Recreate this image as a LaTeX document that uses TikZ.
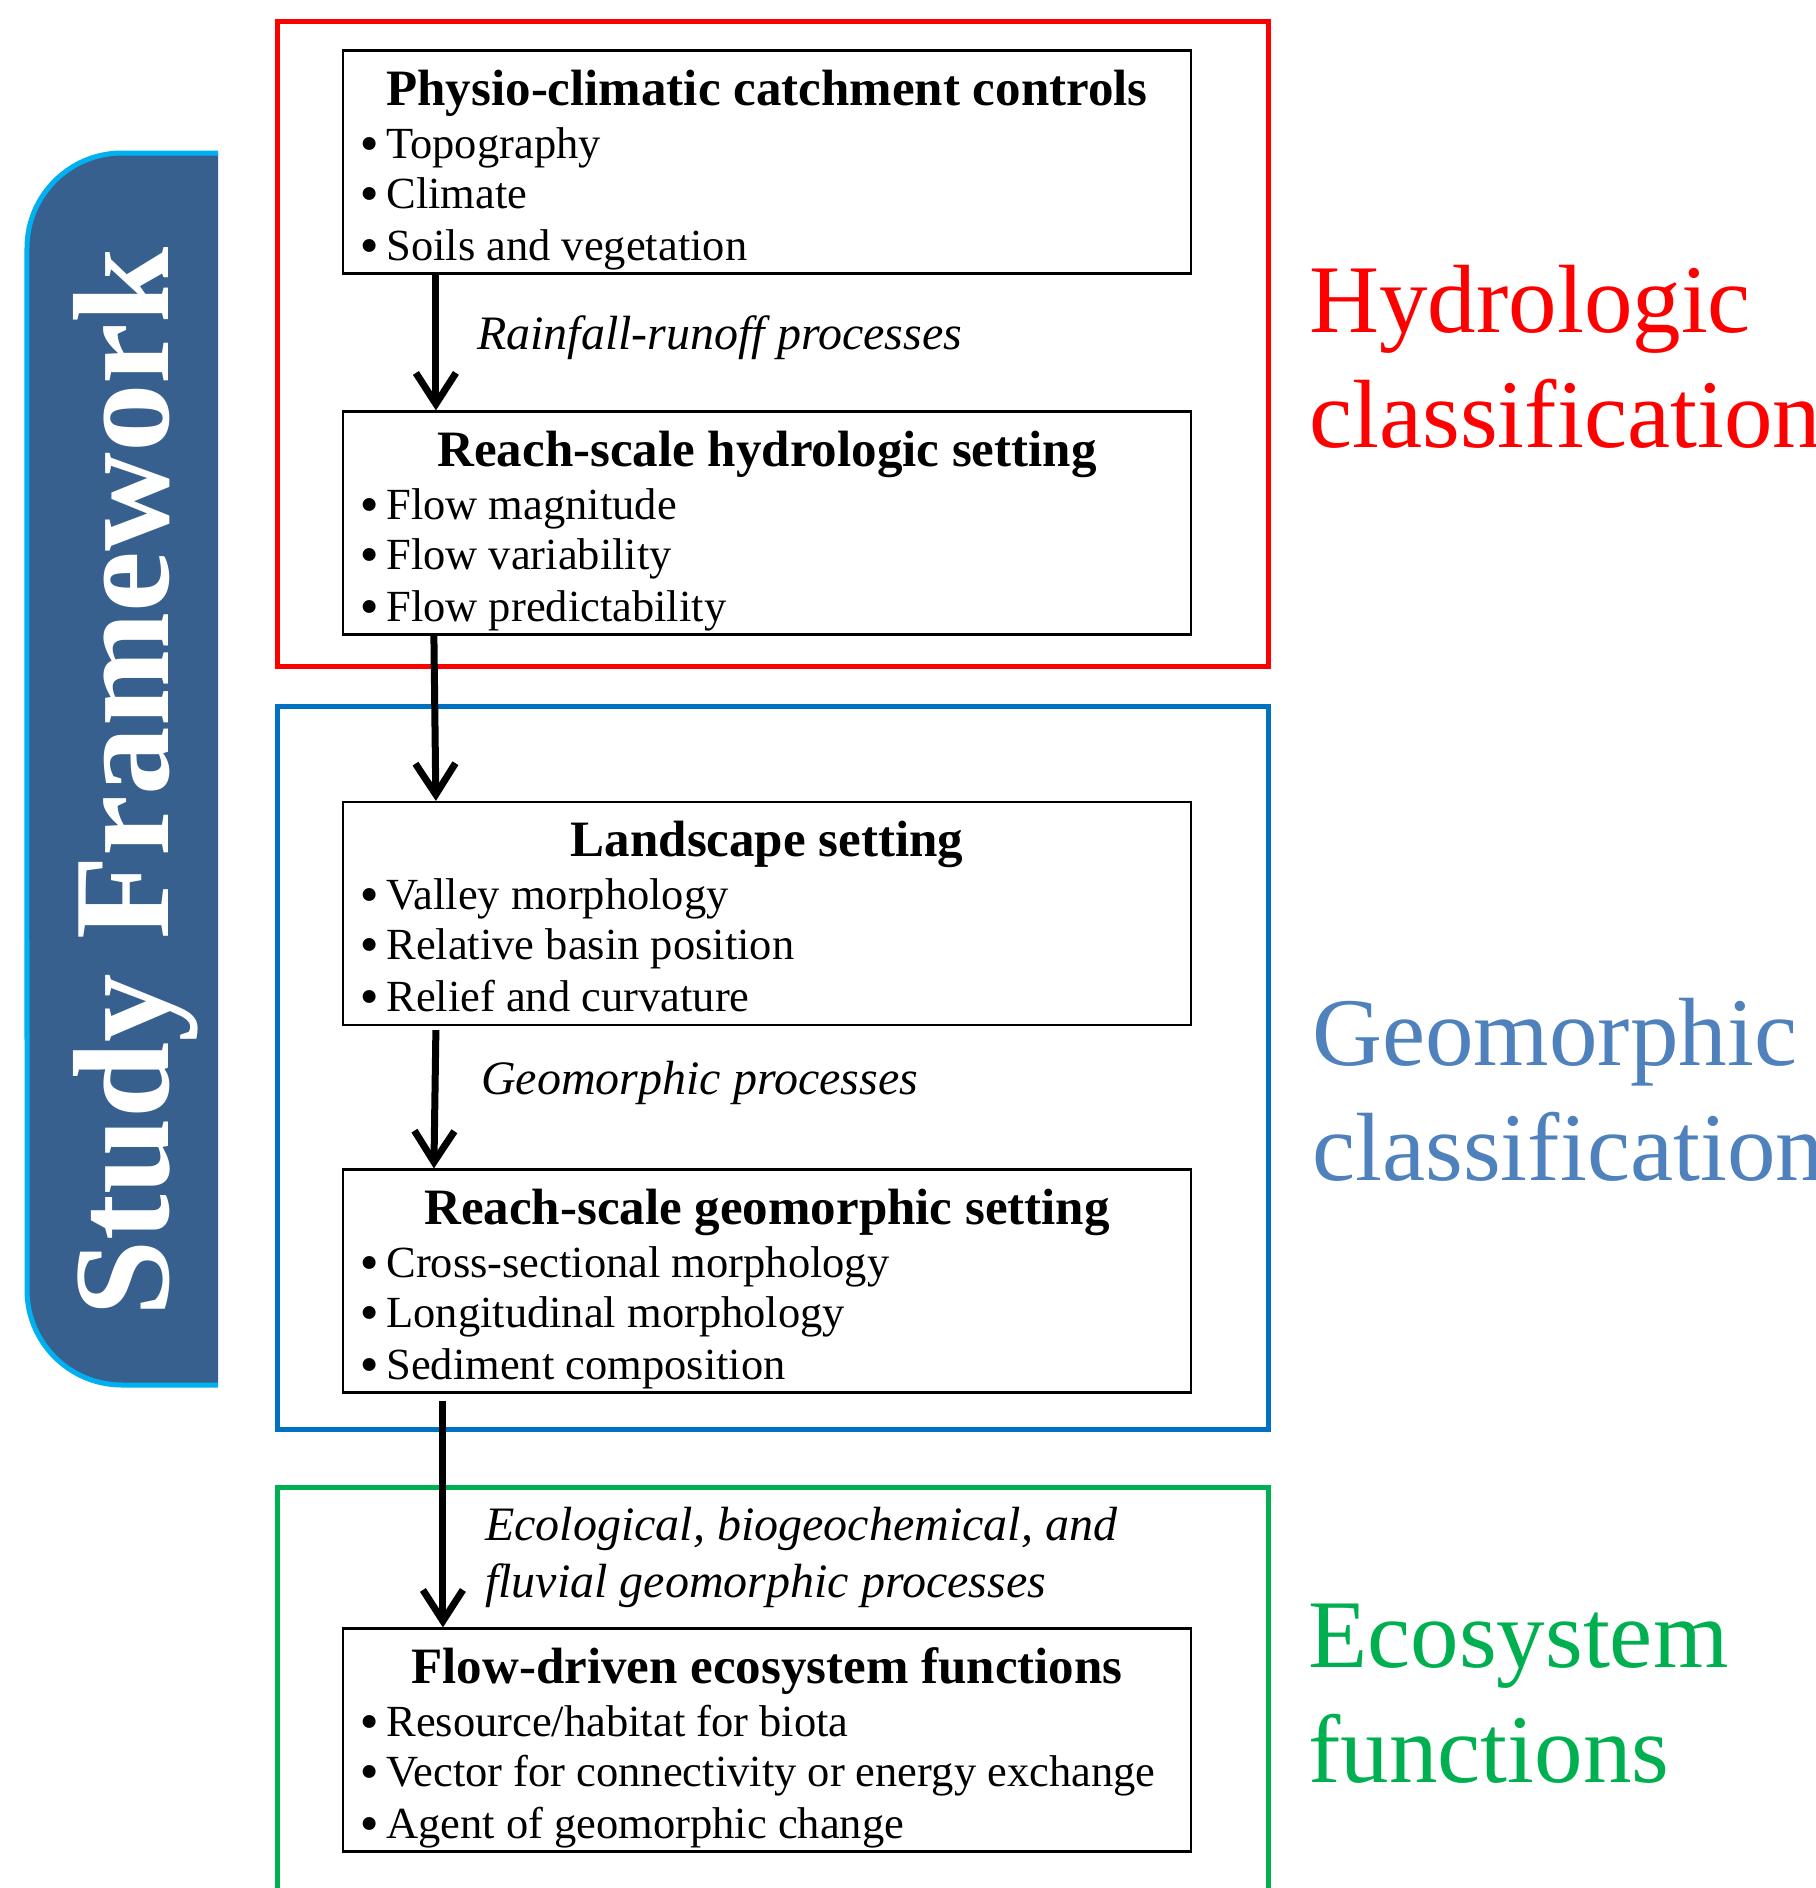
\documentclass[tikz,border=0pt]{standalone}
\usepackage{fontspec}
\setmainfont{Liberation Serif}
\newfontfamily\bulfont{DejaVu Sans}
\usetikzlibrary{arrows.meta,calc}
\definecolor{tabblue}{RGB}{55,96,143}
\definecolor{tabedge}{RGB}{0,176,240}
\definecolor{hred}{RGB}{255,0,0}
\definecolor{gframe}{RGB}{0,112,192}
\definecolor{gtext}{RGB}{79,129,189}
\definecolor{egreen}{RGB}{0,176,80}
\newcommand{\bul}{\raisebox{-2bp}{\bulfont •}\kern4bp}
\begin{document}
\begin{tikzpicture}[x=1bp,y=1bp,
 box/.style={draw=black, line width=2.2bp, minimum width=848bp, minimum height=223bp, inner sep=0pt},
 frame/.style={line width=5bp, minimum width=990bp, inner sep=0pt},
 ttl/.style={anchor=base, inner sep=0pt, font=\fontsize{51bp}{60bp}\selectfont\bfseries},
 itm/.style={anchor=base west, inner sep=0pt, font=\fontsize{44.5bp}{52bp}\selectfont},
 lbl/.style={anchor=base west, inner sep=0pt, font=\fontsize{48bp}{56bp}\selectfont\itshape},
 cls/.style={anchor=base west, inner sep=0pt, font=\fontsize{97bp}{115bp}\selectfont},
 flow/.style={line width=7bp, -{Straight Barb[length=31bp,width=40bp]}}
]
\useasboundingbox (0,0) rectangle (1816,-1888);
\clip (0,0) rectangle (1816,-1888);
% side tab
\fill[tabblue] (218,-153) -- (122,-153) arc[start angle=90,end angle=180,radius=95bp]
  -- (27,-1290) arc[start angle=180,end angle=270,radius=95bp] -- (218,-1385) -- cycle;
\draw[tabedge,line width=5bp] (218,-153) -- (122,-153) arc[start angle=90,end angle=180,radius=95bp]
  -- (27,-1290) arc[start angle=180,end angle=270,radius=95bp] -- (218,-1385);
\node[rotate=90, anchor=base, inner sep=0pt, text=white, font=\fontsize{137bp}{150bp}\selectfont\bfseries] (tab) at (168,-782) {Study Framework};
% frames
\node[frame, draw=hred, minimum height=644bp] (fh) at (773,-344) {};
\node[frame, draw=gframe, minimum height=723bp] (fg) at (773,-1067.5) {};
\node[frame, draw=egreen, minimum height=420bp] (fe) at (773,-1697) {};
% boxes
\node[box] (b1) at (767,-162) {};
\node[box] (b2) at (767,-523) {};
\node[box] (b3) at (767,-913.5) {};
\node[box] (b4) at (767,-1281) {};
\node[box] (b5) at (767,-1740) {};
% titles
\node[ttl] (b1t) at ($(b1.north)+(0,-56)$) {Physio-climatic catchment controls};
\node[ttl] (b2t) at ($(b2.north)+(0,-56)$) {Reach-scale hydrologic setting};
\node[ttl] (b3t) at ($(b3.north)+(0,-56)$) {Landscape setting};
\node[ttl] (b4t) at ($(b4.north)+(0,-56)$) {Reach-scale geomorphic setting};
\node[ttl] (b5t) at ($(b5.north)+(0,-56)$) {Flow-driven ecosystem functions};
% items
\node[itm] (b1a) at ($(b1.north west)+(14,-109)$) {\bul Topography};
\node[itm] (b1b) at ($(b1.north west)+(14,-159)$) {\bul Climate};
\node[itm] (b1c) at ($(b1.north west)+(14,-211)$) {\bul Soils and vegetation};
\node[itm] (b2a) at ($(b2.north west)+(14,-109)$) {\bul Flow magnitude};
\node[itm] (b2b) at ($(b2.north west)+(14,-159)$) {\bul Flow variability};
\node[itm] (b2c) at ($(b2.north west)+(14,-211)$) {\bul Flow predictability};
\node[itm] (b3a) at ($(b3.north west)+(14,-109)$) {\bul Valley morphology};
\node[itm] (b3b) at ($(b3.north west)+(14,-159)$) {\bul Relative basin position};
\node[itm] (b3c) at ($(b3.north west)+(14,-211)$) {\bul Relief and curvature};
\node[itm] (b4a) at ($(b4.north west)+(14,-109)$) {\bul Cross-sectional morphology};
\node[itm] (b4b) at ($(b4.north west)+(14,-159)$) {\bul Longitudinal morphology};
\node[itm] (b4c) at ($(b4.north west)+(14,-211)$) {\bul Sediment composition};
\node[itm] (b5a) at ($(b5.north west)+(14,-109)$) {\bul Resource/habitat for biota};
\node[itm] (b5b) at ($(b5.north west)+(14,-159)$) {\bul Vector for connectivity or energy exchange};
\node[itm] (b5c) at ($(b5.north west)+(14,-211)$) {\bul Agent of geomorphic change};
% process labels
\node[lbl] (l1) at (477,-349) {Rainfall-runoff processes};
\node[lbl] (l2) at (481,-1094) {Geomorphic processes};
\node[lbl] (l3a) at (485,-1540) {Ecological, biogeochemical, and};
\node[lbl] (l3b) at (485,-1597) {fluvial geomorphic processes};
% class labels
\node[cls, text=hred] (ch1) at (1309,-332) {Hydrologic};
\node[cls, text=hred] (ch2) at (1309,-447) {classification};
\node[cls, text=gtext] (cg1) at (1312,-1065) {Geomorphic};
\node[cls, text=gtext] (cg2) at (1312,-1180) {classification};
\node[cls, text=egreen] (ce1) at (1308,-1667) {Ecosystem};
\node[cls, text=egreen] (ce2) at (1308,-1782) {functions};
% arrows
\draw[flow] ($(b1.south west)+(94,0)$) -- ($(b2.north west)+(94,0)$);
\draw[flow] ($(b2.south west)+(92,0)$) -- ($(b3.north west)+(94,0)$);
\draw[flow] ($(b3.south west)+(94,-4)$) -- ($(b4.north west)+(92,0)$);
\draw[flow] ($(b4.south west)+(101,-7)$) -- ($(b5.north west)+(101,0)$);
\end{tikzpicture}
\end{document}
